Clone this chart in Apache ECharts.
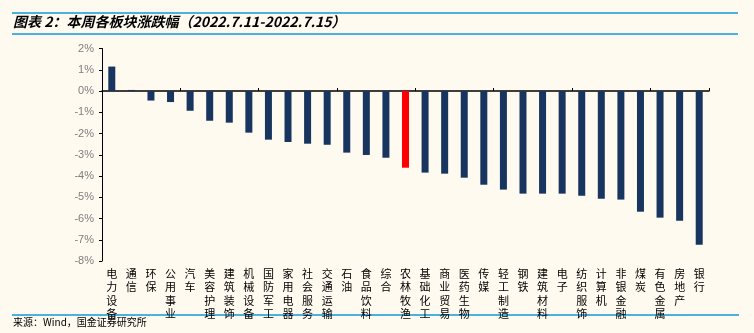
<!DOCTYPE html>
<html><head><meta charset="utf-8">
<script src="https://cdn.jsdelivr.net/npm/echarts@6/dist/echarts.min.js"></script>
<style>html,body{margin:0;padding:0;background:#fffaf0;}#c{width:754px;height:333px;}</style>
</head><body><div id="c"></div>
<script>
const categories = ['电力设备','通信','环保','公用事业','汽车','美容护理','建筑装饰','机械设备','国防军工','家用电器','社会服务','交通运输','石油','食品饮料','综合','农林牧渔','基础化工','商业贸易','医药生物','传媒','轻工制造','钢铁','建筑材料','电子','纺织服饰','计算机','非银金融','煤炭','有色金属','房地产','银行'];
const values = [1.15,0.05,-0.45,-0.52,-0.93,-1.40,-1.49,-1.96,-2.29,-2.40,-2.48,-2.53,-2.90,-3.01,-3.14,-3.61,-3.84,-3.89,-4.08,-4.41,-4.64,-4.83,-4.83,-4.83,-4.93,-5.07,-5.11,-5.68,-5.96,-6.10,-7.23];
const highlight = '农林牧渔';
const titleText = '图表 2：本周各板块涨跌幅（2022.7.11-2022.7.15）';
const sourceText = '来源：Wind，国金证券研究所';

const chart = echarts.init(document.getElementById('c'), null, {renderer:'canvas'});
chart.setOption({
  backgroundColor:'#fffaf0',
  animation:false,
  grid:{left:102, top:48.5, width:607, height:212.5},
  xAxis:[{
    type:'category', data:categories, position:'bottom',
    axisLine:{onZero:false, show:false}, axisTick:{show:false},
    axisLabel:{interval:0, margin:6, color:'#000', fontSize:11, lineHeight:13.5,
      fontFamily:'Noto Sans CJK SC', verticalAlign:'top',
      formatter:v=>v.split('').join('\n')}
  },{
    type:'category', data:categories, position:'bottom',
    axisLine:{onZero:true, lineStyle:{color:'#000', width:1.5}},
    axisTick:{show:true, inside:true, length:3, lineStyle:{color:'#000'}},
    axisLabel:{show:false}
  }],
  yAxis:{
    type:'value', min:-8, max:2, interval:1,
    axisLine:{show:true, lineStyle:{color:'#000', width:1}},
    axisTick:{show:true, length:3, lineStyle:{color:'#000'}},
    splitLine:{show:false},
    axisLabel:{color:'#7f7f7f', fontSize:11, margin:8, fontFamily:'Liberation Sans', formatter:v=>v+'%'}
  },
  series:[{
    type:'bar', xAxisIndex:0, barWidth:7,
    data:values.map((v,i)=>({value:v, itemStyle:{color: categories[i]===highlight ? '#ff0000' : '#17355e'}}))
  }],
  graphic:[
    {type:'line', shape:{x1:12,y1:13,x2:738,y2:13}, style:{stroke:'#0f9ad8', lineWidth:1.5}},
    {type:'line', shape:{x1:12,y1:34,x2:738,y2:34}, style:{stroke:'#0f9ad8', lineWidth:1.5}},
    {type:'line', shape:{x1:12,y1:315,x2:739,y2:315}, style:{stroke:'#0f9ad8', lineWidth:1.5}},
    {type:'text', left:13, top:15, style:{text:titleText, fill:'#000', font:'italic bold 14px "Noto Sans CJK SC"'}},
    {type:'text', left:13, top:317, style:{text:sourceText, fill:'#000', font:'10px "Noto Sans CJK SC"'}}
  ]
});
</script></body></html>
